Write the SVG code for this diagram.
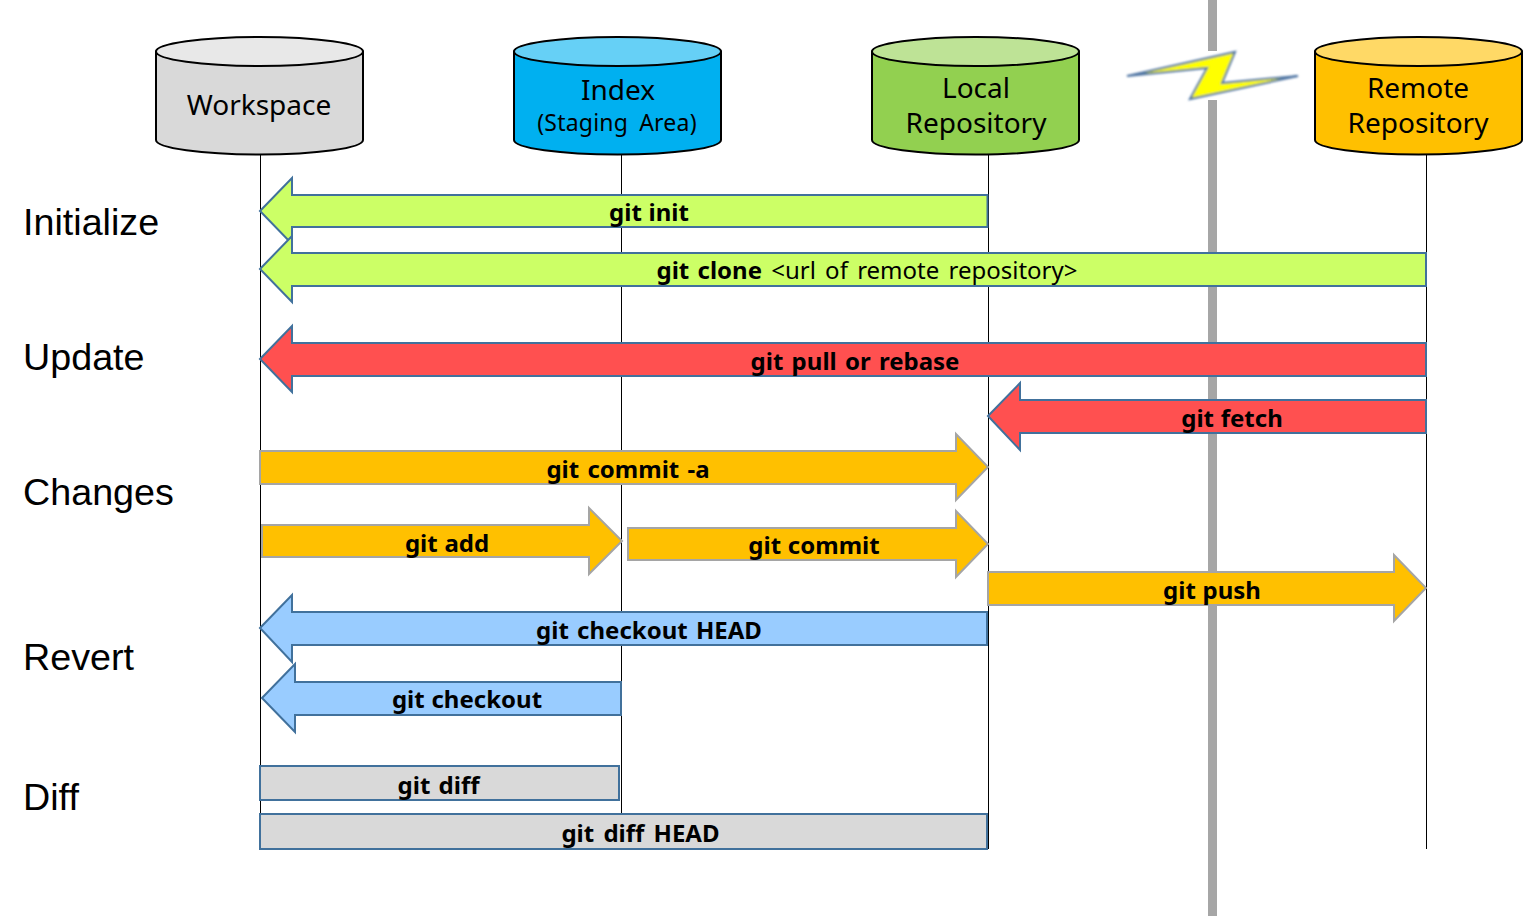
<svg xmlns="http://www.w3.org/2000/svg" width="1523" height="921" viewBox="0 0 1523 921">
<style>
text{font-family:"Noto Sans","Open Sans","Liberation Sans",sans-serif;fill:#000;text-anchor:middle}
.cmd{font-size:24px;font-weight:700;word-spacing:2px}
.one{word-spacing:.5px}
.opt{font-size:24px;font-weight:400;word-spacing:3px}
.name{font-size:28px}
.sub{font-size:23px;letter-spacing:.2px;word-spacing:5px}
.stage{font-family:"Liberation Sans",Arial,sans-serif;font-size:37.7px;text-anchor:start}
.cyl{stroke:#000;stroke-width:2}
.life{stroke:#000;stroke-width:1;fill:none}
.arrow{stroke:#41719c;stroke-width:2;stroke-linejoin:miter}
.org{stroke:#a5a5a5}
.grn{fill:#ccff66}.red{fill:#ff5050}.yel{fill:#ffc000}.blu{fill:#99ccff}.gry{fill:#d9d9d9}
</style>
<defs><filter id="soft" x="-5%" y="-20%" width="110%" height="140%"><feGaussianBlur stdDeviation="0.8"/></filter></defs>
<g id="divider"><rect x="1208" y="0" width="9" height="51" fill="#a6a6a6"/><rect x="1208" y="100" width="9" height="816" fill="#a6a6a6"/></g>
<g id="connectors">
<path class="life" d="M260.5 155V849M621.5 155V813M988.5 155V849M1426.5 155V849"/>
</g>
<g id="workspace"><path class="cyl" fill="#d9d9d9" d="M156 51.500V140A103.500 14.500 0 0 0 363 140V51.500Z"/><ellipse class="cyl" fill="#e8e8e8" cx="259.500" cy="51.500" rx="103.500" ry="14.500"/><text class="name" x="259" y="115">Workspace</text></g>
<g id="index"><path class="cyl" fill="#00b0f0" d="M514 51.500V140A103.500 14.500 0 0 0 721 140V51.500Z"/><ellipse class="cyl" fill="#66d0f6" cx="617.500" cy="51.500" rx="103.500" ry="14.500"/><text class="name" x="618" y="100">Index</text><text class="sub" x="617" y="131">(Staging Area)</text></g>
<g id="local"><path class="cyl" fill="#92d050" d="M872 51.500V140A103.500 14.500 0 0 0 1079 140V51.500Z"/><ellipse class="cyl" fill="#bee396" cx="975.500" cy="51.500" rx="103.500" ry="14.500"/><text class="name" x="976" y="98">Local</text><text class="name" x="976" y="133">Repository</text></g>
<g id="remote"><path class="cyl" fill="#ffc000" d="M1315 51.500V140A103.500 14.500 0 0 0 1522 140V51.500Z"/><ellipse class="cyl" fill="#ffd966" cx="1418.500" cy="51.500" rx="103.500" ry="14.500"/><text class="name" x="1418" y="98">Remote</text><text class="name" x="1418" y="133">Repository</text></g>
<g id="bolt"><polygon points="1127,76 1235,52 1222,83 1298,76 1190,99 1207,68" fill="#ffff00" stroke="#4f75a3" stroke-width="2" filter="url(#soft)"/></g>
<g id="stages"><text class="stage" x="23" y="235">Initialize</text><text class="stage" x="23" y="370">Update</text><text class="stage" x="23" y="505">Changes</text><text class="stage" x="23" y="670">Revert</text><text class="stage" x="23" y="810">Diff</text></g>
<g id="git-init"><path class="arrow grn" d="M260 211L292 178V195H987.500V227H292V244Z"/><text class="cmd one" x="649" y="221">git init</text></g>
<g id="git-clone"><path class="arrow grn" d="M260 269L292 236V253H1426V286H292V302Z"/><text x="867" y="279"><tspan class="cmd">git clone</tspan><tspan class="opt"> &lt;url of remote repository&gt;</tspan></text></g>
<g id="git-pull"><path class="arrow red" d="M260 359L292 326V343H1426V376H292V392Z"/><text class="cmd" x="855" y="370">git pull or rebase</text></g>
<g id="git-fetch"><path class="arrow red" d="M988 416L1020 383V400H1426V433H1020V450Z"/><text class="cmd one" x="1232" y="427">git fetch</text></g>
<g id="git-commit-a"><path class="arrow yel org" d="M260 451H956V434L988 467L956 500V484H260Z"/><text class="cmd" x="628" y="478">git commit -a</text></g>
<g id="git-add"><path class="arrow yel org" d="M262 525H589V508L622 541L589 574V557H262Z"/><text class="cmd one" x="447" y="552">git add</text></g>
<g id="git-commit"><path class="arrow yel org" d="M628 528H956V511L988 544L956 577V560H628Z"/><text class="cmd one" x="814" y="554">git commit</text></g>
<g id="git-push"><path class="arrow yel org" d="M988 572H1394V555L1426 588L1394 621V605H988Z"/><text class="cmd one" x="1212" y="599">git push</text></g>
<g id="git-checkout-head"><path class="arrow blu" d="M260 628L292 595V612H987V645H292V662Z"/><text class="cmd" x="649" y="639">git checkout HEAD</text></g>
<g id="git-checkout"><path class="arrow blu" d="M262 698L295 664V682H621V715H295V732Z"/><text class="cmd one" x="467" y="708">git checkout</text></g>
<g id="git-diff"><rect class="arrow gry" x="260" y="766" width="359" height="34"/><text class="cmd" x="438.500" y="794">git diff</text></g>
<g id="git-diff-head"><rect class="arrow gry" x="260" y="814" width="727" height="35"/><text class="cmd" x="640.500" y="842" style="word-spacing:3px">git diff HEAD</text></g>
</svg>
